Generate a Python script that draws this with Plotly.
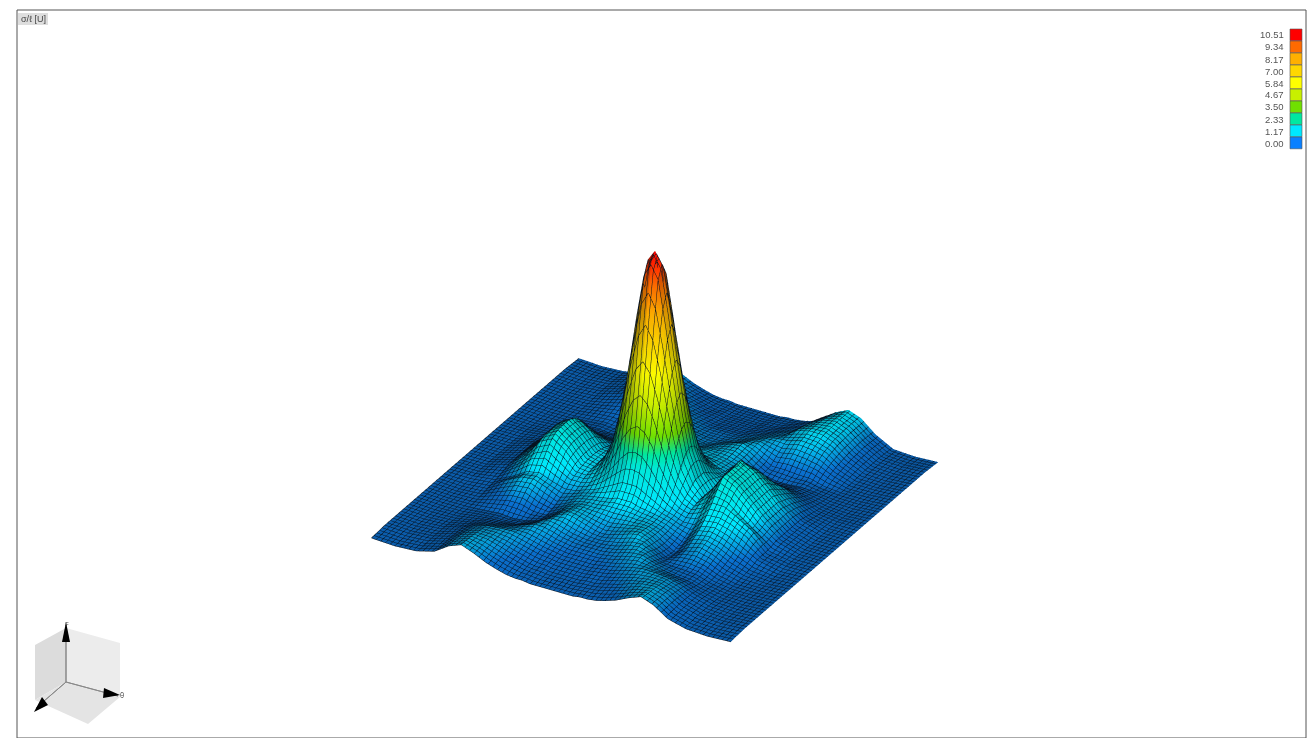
import plotly.graph_objects as go

X = [-1,-.87,-.75,-.65,-.57,-.5,-.43,-.36,-.3,-.25,-.2,-.16,-.12,-.08,-.04,0,.04,.08,.12,.16,.2,.25,.3,.36,.43,.5,.57,.65,.75,.87,1]
V = [-1,-.87,-.75,-.65,-.57,-.5,-.43,-.36,-.3,-.25,-.2,-.16,-.12,-.08,-.04,0,.04,.08,.12,.16,.2,.25,.3,.36,.43,.5,.57,.65,.75,.87,1]
Z = [
[.1,.05,.1,.3,.7,.9,.7,.45,.3,.2,.15,.15,.1,.1,.1,.1,.1,.1,.1,.15,.15,.2,.3,.6,.95,1.2,1,.5,.1,.05,.1],
[.15,.1,.15,.35,.7,.85,.8,.65,.5,.4,.3,.25,.25,.2,.2,.2,.2,.2,.25,.25,.3,.4,.5,.85,1.1,1.2,1,.55,.15,.1,.15],
[.15,.1,.15,.35,.6,.75,.8,.8,.7,.6,.5,.45,.4,.35,.35,.35,.35,.35,.4,.45,.5,.6,.7,1,1.15,1.15,.95,.5,.15,.1,.15],
[.15,.1,.12,.25,.4,.45,.55,.7,.85,.8,.7,.6,.55,.5,.5,.5,.5,.5,.55,.6,.7,.8,.85,.85,1,.95,.8,.4,.12,.1,.15],
[.15,.1,.1,.2,.25,.25,.3,.5,.75,.9,.85,.75,.65,.6,.55,.55,.55,.6,.65,.75,.85,.9,.75,.6,.7,.65,.55,.3,.1,.1,.15],
[.15,.1,.1,.15,.2,.15,.2,.35,.6,.85,1,.95,.85,.75,.65,.6,.65,.75,.85,.95,1,.85,.6,.35,.35,.3,.3,.15,.1,.1,.15],
[.15,.1,.12,.2,.25,.2,.2,.3,.55,.8,.95,.95,.9,.85,.8,.75,.8,.85,.9,.95,.95,.8,.55,.3,.2,.2,.25,.2,.12,.1,.15],
[.15,.1,.15,.3,.4,.4,.35,.4,.6,.8,.9,.95,.95,1,1,1,1,1,.95,.95,.9,.8,.6,.4,.35,.4,.4,.3,.15,.1,.15],
[.15,.12,.2,.45,.65,.7,.6,.55,.7,.85,.95,1,1.05,1.1,1.2,1.2,1.2,1.1,1.05,1,.95,.85,.7,.55,.6,.7,.65,.45,.2,.12,.15],
[.15,.15,.25,.6,.95,1.05,.85,.7,.75,.9,1,1.15,1.3,1.45,1.6,1.6,1.6,1.45,1.3,1.15,1,.9,.75,.7,.85,1.05,.95,.6,.25,.15,.15],
[.15,.15,.3,.8,1.3,1.45,1.15,.9,.9,1,1.25,1.5,1.85,2.2,2.5,2.6,2.5,2.2,1.85,1.5,1.25,1,.9,1.05,1.55,1.45,1.15,.75,.3,.15,.15],
[.15,.15,.35,.9,1.5,1.75,1.4,1,1,1.15,1.5,2,2.6,3.4,3.9,4.1,3.9,3.4,2.6,2,1.5,1.15,1,1.2,1.9,1.75,1.3,.85,.35,.15,.15],
[.15,.15,.4,1,1.75,2,1.65,1.1,1.05,1.3,1.85,2.6,3.7,4.8,5.7,6.1,5.7,4.8,3.7,2.6,1.85,1.3,1.05,1.4,2.15,1.95,1.5,.9,.4,.15,.15],
[.15,.15,.4,1.05,1.85,2.15,1.75,1.15,1.1,1.45,2.2,3.4,4.8,6.4,7.7,8.3,7.7,6.4,4.8,3.4,2.2,1.45,1.1,1.6,2.4,2.1,1.6,1,.4,.15,.15],
[.15,.15,.4,1.1,1.9,2.2,1.8,1.2,1.1,1.6,2.5,3.9,5.7,7.7,9.5,10.05,9.5,7.7,5.7,3.9,2.5,1.6,1.1,1.6,2.4,2.1,1.6,1,.4,.15,.15],
[.15,.15,.4,1.1,1.9,2.2,1.8,1.2,1.1,1.6,2.6,4.1,6.1,8.3,10.05,10.51,10.05,8.3,6.1,4.1,2.6,1.6,1.1,1.6,2.4,2.1,1.6,1,.4,.15,.15],
[.15,.15,.4,1.1,1.9,2.2,1.8,1.2,1.1,1.6,2.5,3.9,5.7,7.7,9.5,10.05,9.5,7.7,5.7,3.9,2.5,1.6,1.1,1.6,2.4,2.1,1.6,1,.4,.15,.15],
[.15,.15,.4,1.05,1.85,2.15,1.75,1.15,1.1,1.45,2.2,3.4,4.8,6.4,7.7,8.3,7.7,6.4,4.8,3.4,2.2,1.45,1.1,1.6,2.4,2.1,1.6,1,.4,.15,.15],
[.15,.15,.4,1,1.75,2,1.65,1.1,1.05,1.3,1.85,2.6,3.7,4.8,5.7,6.1,5.7,4.8,3.7,2.6,1.85,1.3,1.05,1.4,2.15,1.95,1.5,.9,.4,.15,.15],
[.15,.15,.35,.9,1.5,1.75,1.4,1,1,1.15,1.5,2,2.6,3.4,3.9,4.1,3.9,3.4,2.6,2,1.5,1.15,1,1.2,1.9,1.75,1.3,.85,.35,.15,.15],
[.15,.15,.3,.8,1.3,1.45,1.15,.9,.9,1,1.25,1.5,1.85,2.2,2.5,2.6,2.5,2.2,1.85,1.5,1.25,1,.9,1.05,1.6,1.6,1.35,1,.3,.15,.15],
[.15,.15,.25,.6,.95,1.05,.85,.7,.75,.9,1,1.15,1.3,1.45,1.6,1.6,1.6,1.45,1.3,1.15,1,.9,.75,.75,1.3,1.35,1.2,.9,.3,.15,.15],
[.15,.12,.2,.65,.95,1,.8,.55,.7,.85,.95,1,1.05,1.1,1.2,1.2,1.2,1.1,1.05,1,.95,.85,.7,.55,1.05,1.15,1,.7,.3,.12,.15],
[.15,.1,.15,.5,.75,.8,.55,.4,.6,.8,.9,.95,.95,1,1,1,1,1,.95,.95,.9,.8,.6,.4,.85,.95,.8,.5,.2,.1,.15],
[.15,.1,.12,.3,.45,.45,.3,.3,.55,.8,.95,.95,.9,.85,.8,.75,.8,.85,.9,.95,.95,.8,.55,.3,.65,.8,.65,.35,.15,.1,.15],
[.15,.1,.1,.15,.2,.15,.2,.35,.6,.85,1,.95,.85,.75,.65,.6,.65,.75,.85,.95,1,.85,.6,.35,.55,.6,.5,.25,.1,.1,.15],
[.15,.1,.1,.2,.25,.25,.3,.5,.75,.9,.85,.75,.65,.6,.55,.55,.55,.6,.65,.75,.85,.9,.75,.5,.45,.45,.4,.2,.1,.1,.15],
[.15,.1,.12,.25,.4,.45,.55,.7,.85,.8,.7,.6,.55,.5,.5,.5,.5,.5,.55,.6,.7,.8,.85,.7,.55,.45,.4,.25,.12,.1,.15],
[.15,.1,.15,.35,.6,.75,.8,.8,.7,.6,.5,.45,.4,.35,.35,.35,.35,.35,.4,.45,.5,.6,.7,.8,.8,.75,.6,.35,.15,.1,.15],
[.15,.1,.15,.35,.7,.85,.8,.65,.5,.4,.3,.25,.25,.2,.2,.2,.2,.2,.25,.25,.3,.4,.5,.65,.8,.85,.7,.35,.15,.1,.15],
[.1,.05,.1,.3,.7,.9,.7,.45,.3,.2,.15,.15,.1,.1,.1,.1,.1,.1,.1,.15,.15,.2,.3,.45,.7,.9,.7,.3,.1,.05,.1],
]
LEGEND_LABELS = ["10.51","9.34","8.17","7.00","5.84","4.67","3.50","2.33","1.17","0.00"]
LEGEND_COLORS = ["#ff0000","#ff6a00","#ffb000","#ffd800","#ffff00","#c8f000","#70e000","#00e8a0","#00e8ff","#0a80ff"]
FLOOR_STOPS = [[0, "#0a66c0"], [.4 / 10.51, "#0a70d0"]]
EXTRA_LEVEL, EXTRA_COLOR = 2.3, "#00e8d8"
Y = [-v for v in V][::-1]
Z_ASC = Z[::-1]
W, H = 1307, 738
def px(x): return x / W
def py(y): return 1 - y / H

cs = sorted([[float(l) / 10.51, c] for l, c in zip(LEGEND_LABELS, LEGEND_COLORS) if l not in ("2.33", "0.00")] + [[EXTRA_LEVEL / 10.51, EXTRA_COLOR], [2.8 / 10.51, "#00e8a0"]] + FLOOR_STOPS)
line = dict(show=True, start=-1, end=1, size=.026, color="#06121f", width=1, highlight=False)
fig = go.Figure(go.Surface(x=X, y=Y, z=Z_ASC, colorscale=cs, cmin=0, cmax=10.51, showscale=False, hoverinfo="skip",
    contours=dict(x=line, y=line, z=dict(highlight=False)),
    lighting=dict(ambient=.35, diffuse=.75, specular=.02, roughness=.9, fresnel=0),
    lightposition=dict(x=-4330, y=7500, z=-5000)))

shapes = [dict(type="rect", xref="paper", yref="paper", x0=px(17), x1=px(1306), y0=py(10), y1=py(738), line=dict(color="#555", width=1)),
          dict(type="rect", xref="paper", yref="paper", x0=px(18), x1=px(48), y0=py(13), y1=py(25), fillcolor="#dedede", line=dict(width=0))]
annots = [dict(x=px(33), y=py(19), xref="paper", yref="paper", text="σ/ℓ [U]", showarrow=False, xanchor="center", yanchor="middle", font=dict(size=9, color="#444", family="Liberation Sans"))]
for i, (lab, col) in enumerate(zip(LEGEND_LABELS, LEGEND_COLORS)):
    y0 = 29 + i * 12
    shapes.append(dict(type="rect", xref="paper", yref="paper", x0=px(1290), x1=px(1302), y0=py(y0), y1=py(y0 + 11.8), fillcolor=col, line=dict(color="#555", width=.6)))
    annots.append(dict(x=px(1286), y=py(y0 + 6), xref="paper", yref="paper", text=lab, showarrow=False, xanchor="right", yanchor="middle", font=dict(size=9.5, color="#555", family="Liberation Sans")))

def poly(pts, fill, lc=None, lw=0):
    d = "M " + " L ".join(f"{px(a):.5f},{py(b):.5f}" for a, b in pts) + " Z"
    return dict(type="path", xref="paper", yref="paper", path=d, fillcolor=fill, line=dict(color=lc or fill, width=lw))
shapes += [poly([(66,628),(120,643),(120,697),(66,682)], "#ececec"),
           poly([(35,645),(66,628),(66,682),(35,700)], "#dcdcdc"),
           poly([(66,682),(120,697),(88,724),(35,700)], "#e4e4e4"),
           poly([(66,682),(66,625)], "#888", "#888", 1),
           poly([(66,682),(118,696)], "#888", "#888", 1),
           poly([(66,682),(36,708)], "#888", "#888", 1),
           poly([(62,642),(66,622),(70,642)], "#000"),
           poly([(104,688),(120,695),(103,698)], "#000"),
           poly([(42,697),(34,712),(48,705)], "#000")]
annots += [dict(x=px(67), y=py(624), xref="paper", yref="paper", text="F", showarrow=False, xanchor="center", yanchor="middle", font=dict(size=7, color="#444")),
           dict(x=px(122), y=py(695), xref="paper", yref="paper", text="θ", showarrow=False, xanchor="center", yanchor="middle", font=dict(size=7, color="#444"))]

ax = dict(visible=False)
fig.update_layout(width=W, height=H, margin=dict(l=0, r=0, t=0, b=0), paper_bgcolor="white", shapes=shapes, annotations=annots,
    scene=dict(domain=dict(x=[0, 1], y=[0, 1]),
        xaxis=dict(ax, range=[-1, 1]), yaxis=dict(ax, range=[-1, 1]), zaxis=dict(ax, range=[0, 10.51]),
        aspectmode="manual", aspectratio=dict(x=1.125, y=1.125, z=.7875), bgcolor="white",
        camera=dict(projection=dict(type="orthographic"), eye=dict(x=.7613, y=-1.326, z=.907), center=dict(x=-.0085, y=.007, z=.0179), up=dict(x=0, y=0, z=1))))
fig.write_html("out.html", config=dict(displayModeBar=False), post_script="document.body.style.margin='0';document.documentElement.style.overflow='hidden';")
